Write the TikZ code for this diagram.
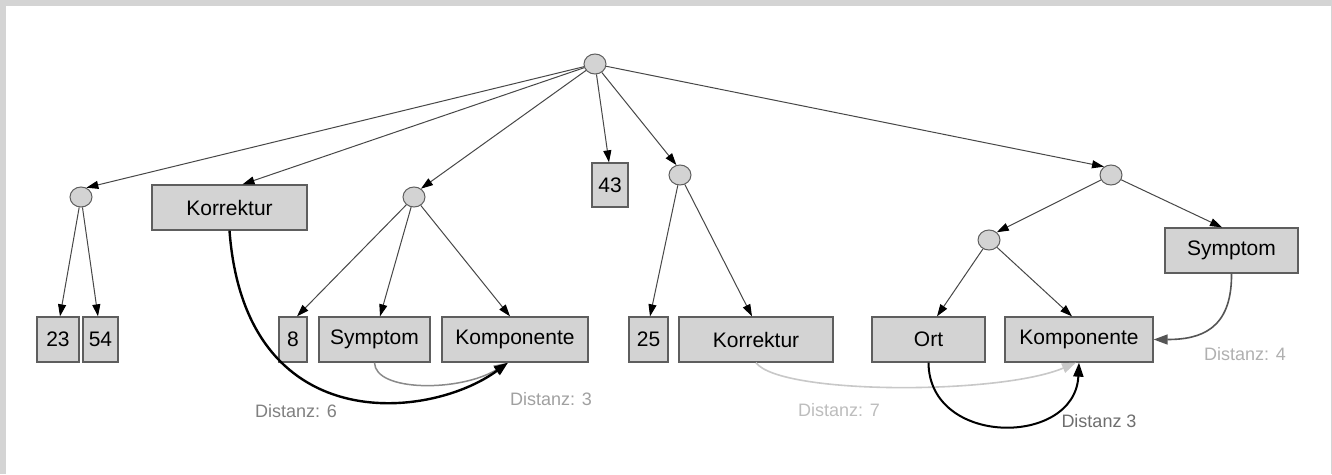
\documentclass[tikz,border=0pt]{standalone}
\usepackage{fontspec}
\setmainfont{Liberation Sans}
\usetikzlibrary{arrows.meta,shapes.geometric}
\definecolor{boxfill}{HTML}{D3D3D3}
\definecolor{boxline}{HTML}{5E5E5E}
\definecolor{edgecol}{HTML}{474747}
\definecolor{framecol}{HTML}{D4D4D4}
\definecolor{curvegray}{HTML}{8A8A8A}
\definecolor{curvelight}{HTML}{C8C8C8}
\definecolor{curvedark}{HTML}{555555}
\definecolor{labsix}{HTML}{808080}
\definecolor{labthreea}{HTML}{A0A0A0}
\definecolor{labseven}{HTML}{BDBDBD}
\definecolor{labthreeb}{HTML}{6E6E6E}
\definecolor{labfour}{HTML}{B0B0B0}
\begin{document}
\begin{tikzpicture}[x=1pt,y=-1pt,
  box/.style={draw=boxline, fill=boxfill, line width=1.3pt, rectangle, inner sep=0pt,
    minimum height=45pt, font=\fontsize{21}{24}\selectfont},
  dot/.style={draw=boxline, fill=boxfill, line width=1pt, ellipse, inner sep=0pt,
    minimum width=22pt, minimum height=20pt},
  tree/.style={draw=edgecol, line width=1pt, -{Triangle[length=12pt,width=8pt,color=black]}},
  dist/.style={line width=2pt, -{Triangle[length=14pt,width=10pt]}},
  lab/.style={font=\fontsize{18}{20}\selectfont, inner sep=0pt}
]
\fill[framecol] (0,0) rectangle (1332,474);
\fill[white] (6,6) rectangle (1331,474);
\useasboundingbox (0,0) rectangle (1332,474);

% inner nodes
\node[dot] (root) at (595,64) {};
\node[dot] (A) at (81,197) {};
\node[dot] (B) at (414,197) {};
\node[dot] (C) at (680,175) {};
\node[dot] (D) at (1111,175) {};
\node[dot] (E) at (989,240) {};

% boxes
\node[box, minimum width=155pt] (k1) at (229.5,207.5) {Korrektur};
\node[box, minimum width=36pt, minimum height=44pt] (n43) at (610,185) {43};
\node[box, minimum width=133pt] (sym2) at (1231.5,250.5) {Symptom};
\node[box, minimum width=42pt] (n23) at (58,339.5) {23};
\node[box, minimum width=35pt] (n54) at (100.5,339.5) {54};
\node[box, minimum width=28pt] (n8) at (293,339.5) {8};
\node[box, minimum width=111pt] (sym1) at (374.5,339.5) {Symptom};
\node[box, minimum width=146pt] (komp1) at (515,339.5) {Komponente};
\node[box, minimum width=39pt] (n25) at (648.5,339.5) {25};
\node[box, minimum width=154pt] (k2) at (756,339.5) {Korrektur};
\node[box, minimum width=113pt] (ort) at (928.5,339.5) {Ort};
\node[box, minimum width=148pt] (komp2) at (1079,339.5) {Komponente};

% tree edges
\draw[tree] (root) -- (A.60);
\draw[tree] (root) -- ([xshift=13pt]k1.north);
\draw[tree] (root) -- (B.50);
\draw[tree] (root) -- ([xshift=-1pt]n43.north);
\draw[tree] (root) -- (C.110);
\draw[tree] (root) -- (D.130);
\draw[tree] (A) -- ([xshift=2pt]n23.north);
\draw[tree] (A) -- ([xshift=-2.5pt]n54.north);
\draw[tree] (B) -- ([xshift=4pt]n8.north);
\draw[tree] (B) -- ([xshift=5.5pt]sym1.north);
\draw[tree] (B) -- ([xshift=-5pt]komp1.north);
\draw[tree] (C) -- ([xshift=1.5pt]n25.north);
\draw[tree] (C) -- ([xshift=-4pt]k2.north);
\draw[tree] (D) -- (E.45);
\draw[tree] (D) -- ([xshift=-9.5pt]sym2.north);
\draw[tree] (E) -- ([xshift=8.5pt]ort.north);
\draw[tree] (E) -- ([xshift=-7pt]komp2.north);

% distance curves
\draw[dist, curvegray, line width=1.5pt] (sym1.south) .. controls (375,392) and (460,392) .. ([xshift=-7pt]komp1.south);
\draw[dist, black, line width=2.4pt] (k1.south) .. controls (245,440) and (430,420) .. ([xshift=-7pt]komp1.south);
\draw[dist, curvelight, line width=1.6pt] (k2.south) .. controls (780,395) and (1000,395) .. ([xshift=-3pt]komp2.south);
\draw[dist, black] (ort.south) .. controls (929,447) and (1075,447) .. (komp2.south);
\draw[dist, curvedark, line width=1.6pt] (sym2.south) .. controls (1232,330) and (1200,339.5) .. (komp2.east);

% labels
\node[lab, text=labsix] (l6) at (296,411) {Distanz: 6};
\node[lab, text=labthreea] (l3a) at (551,399) {Distanz: 3};
\node[lab, text=labseven] (l7) at (839,410) {Distanz: 7};
\node[lab, text=labthreeb] (l3b) at (1099,421) {Distanz 3};
\node[lab, text=labfour] (l4) at (1245,354) {Distanz: 4};
\end{tikzpicture}
\end{document}
